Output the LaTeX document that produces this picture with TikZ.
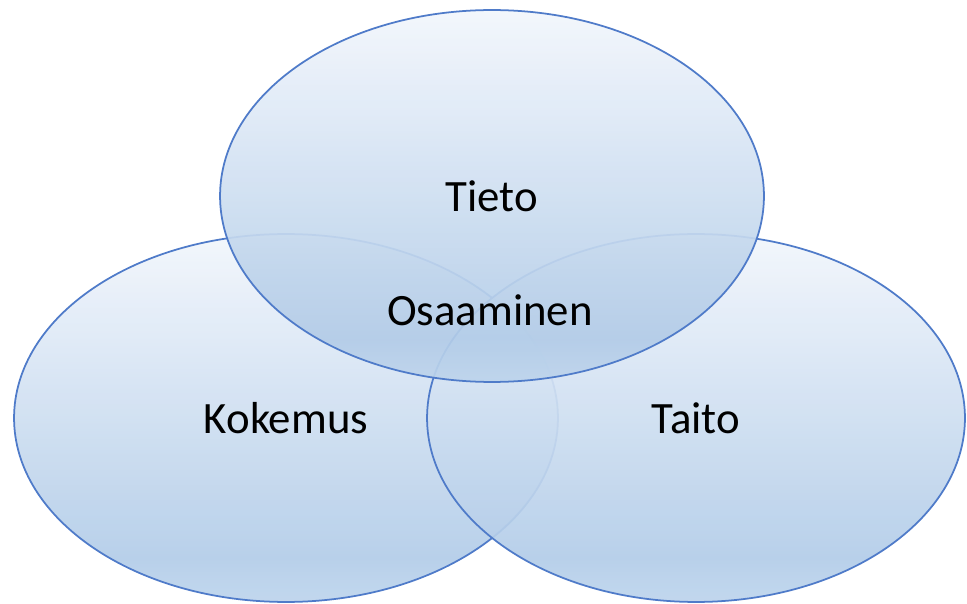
\documentclass[tikz,border=0pt]{standalone}
\usepackage{fontspec}
\setmainfont{Carlito}
\usetikzlibrary{shapes.geometric, positioning}
\definecolor{ovalline}{HTML}{4F7BC9}
\definecolor{ovaltop}{HTML}{F2F6FC}
\definecolor{ovalbot}{HTML}{B2CCE8}
\definecolor{ovalrim}{HTML}{BDD4EC}
\pgfdeclareverticalshading{ovalfill}{100bp}{color(0bp)=(ovalrim); color(25bp)=(ovalrim); color(31bp)=(ovalbot); color(75bp)=(ovaltop); color(100bp)=(ovaltop)}

\begin{document}
\begin{tikzpicture}[x=0.02cm, y=-0.02cm,
        oval/.style={ellipse, draw=ovalline, line width=1pt, shading=ovalfill,
          fill opacity=0.92, text opacity=1, inner sep=0pt,
          minimum width=#1},
        oval/.default=10.88cm,
        lbl/.style={font=\fontsize{25.5}{30}\selectfont}]
        \useasboundingbox (0,0) rectangle (967,604);
        \node[oval, minimum height=7.36cm, lbl] (kokemus) at (286,418) {Kokemus};
        \node[oval=10.76cm, minimum height=7.36cm, lbl] (taito) at (696,418) {Taito};
        \node[oval, minimum height=7.44cm, lbl] (tieto) at (492,196) {Tieto};
        \node[lbl] (osaaminen) at (490,310) {Osaaminen};
\end{tikzpicture}
\end{document}
